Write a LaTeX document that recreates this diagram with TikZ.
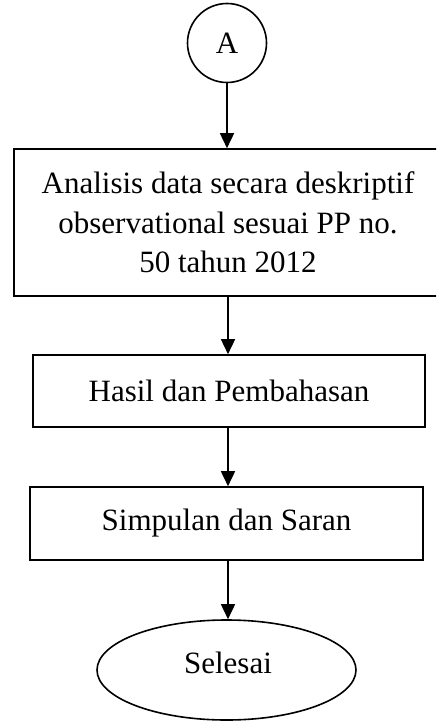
\documentclass[tikz,border=0pt]{standalone}
\usepackage{fontspec}
\setmainfont{Liberation Serif}
\usetikzlibrary{arrows.meta,shapes.geometric}
\begin{document}
\begin{tikzpicture}[x=1pt,y=-1pt,
  every node/.style={font=\fontsize{31}{39.5}\selectfont},
  boxnode/.style={draw,line width=1.6pt,inner sep=0pt,align=center},
  arr/.style={line width=1.6pt,-{Triangle[length=15pt,width=14pt]}}]
\useasboundingbox (0,0) rectangle (436,722);
\clip (0,0) rectangle (436,722);
\node[boxnode,circle,minimum size=79pt] (A) at (227,43) {A};
\node[boxnode,minimum width=428pt,minimum height=147pt] (b1) at (228,222.5)
  {Analisis data secara deskriptif\\observational sesuai PP no.\\50 tahun 2012};
\node[boxnode,minimum width=392pt,minimum height=72pt] (b2) at (229,391) {Hasil dan Pembahasan};
\node[boxnode,minimum width=393pt,minimum height=73pt] (b3) at (226.5,523.5) {Simpulan dan Saran};
\node[boxnode,ellipse,minimum width=259pt,minimum height=100pt] (e) at (226.5,670) {};
\node (sel) at (228,663) {Selesai};
\draw[arr] (A.south) -- (A.south |- b1.north);
\draw[arr] (b1.south) -- (b1.south |- b2.north);
\draw[arr] (b1.south |- b2.south) -- (b1.south |- b3.north);
\draw[arr] (b1.south |- b3.south) -- (b1.south |- e.north);
\end{tikzpicture}
\end{document}
